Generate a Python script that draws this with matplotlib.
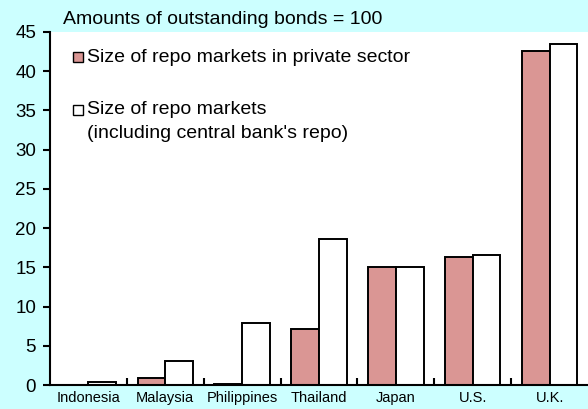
import matplotlib
matplotlib.use("Agg")
import matplotlib.pyplot as plt
from matplotlib.patches import Rectangle
import numpy as np

plt.rcParams['font.family'] = ['Liberation Sans', 'DejaVu Sans']

# data (amounts of outstanding bonds = 100)
countries = ['Indonesia', 'Malaysia', 'Philippines', 'Thailand', 'Japan', 'U.S.', 'U.K.']
private_repo = [0.0, 0.95, 0.1, 7.2, 15.1, 16.3, 42.6]
total_repo = [0.4, 3.1, 7.85, 18.6, 15.1, 16.6, 43.5]

pink = '#DA9694'
bg = '#CCFFFF'

fig = plt.figure(figsize=(5.88, 4.09), dpi=100, facecolor=bg)
ax = fig.add_axes([50 / 588, 24 / 409, 538 / 588, 353 / 409])
ax.set_facecolor('white')

x = np.arange(len(countries))
w = 0.36
ax.bar(x - w / 2, private_repo, w, color=pink, edgecolor='black', linewidth=1.4)
ax.bar(x + w / 2, total_repo, w, color='white', edgecolor='black', linewidth=1.4)

ax.set_xlim(-0.5, len(countries) - 0.5)
ax.set_ylim(0, 45)
ax.set_yticks(range(0, 46, 5))

# category separators as inward ticks, names centered on minor ticks
ax.set_xticks(np.arange(0.5, len(countries) - 0.5, 1))
ax.set_xticklabels([])
ax.set_xticks(x, minor=True)
ax.set_xticklabels(countries, minor=True, fontsize=10.5)
ax.tick_params(axis='x', which='major', direction='in', length=5, width=1.5)
ax.tick_params(axis='x', which='minor', length=0, pad=4.5)
ax.tick_params(axis='y', direction='out', length=5, width=1.5, labelsize=13.5, pad=5)

for s in ['top', 'right']:
    ax.spines[s].set_visible(False)
for s in ['left', 'bottom']:
    ax.spines[s].set_linewidth(1.5)

fig.text(63 / 588, 1 - 20 / 409, 'Amounts of outstanding bonds = 100',
         fontsize=14, va='center', ha='left')

# legend drawn by hand in pixel-ish figure coords
def fx(px):
    return px / 588

def fy(py):
    return 1 - py / 409

sq = 10
fig.patches.append(Rectangle((fx(73), fy(62)), sq / 588, sq / 409, transform=fig.transFigure,
                             facecolor=pink, edgecolor='black', linewidth=1.0))
fig.text(fx(87), fy(57), 'Size of repo markets in private sector', fontsize=14, va='center')
fig.patches.append(Rectangle((fx(73), fy(115)), sq / 588, sq / 409, transform=fig.transFigure,
                             facecolor='white', edgecolor='black', linewidth=1.0))
fig.text(fx(87), fy(110), 'Size of repo markets', fontsize=14, va='center')
fig.text(fx(87), fy(133), "(including central bank's repo)", fontsize=14, va='center')

fig.savefig('out.png', dpi=100, facecolor=bg)
